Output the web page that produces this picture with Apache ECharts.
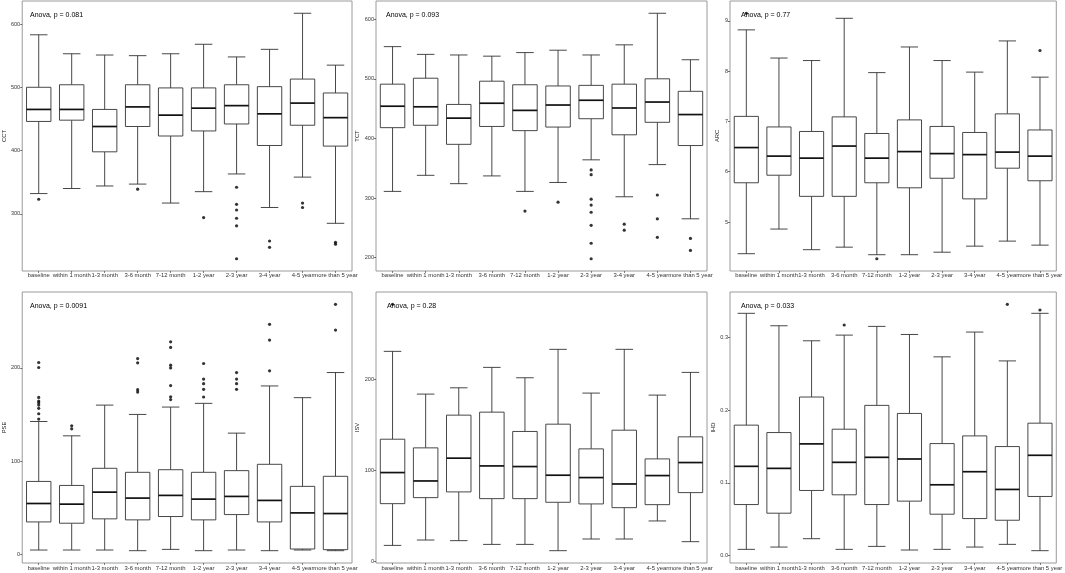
<!DOCTYPE html>
<html>
<head>
<meta charset="utf-8">
<script src="https://cdn.jsdelivr.net/npm/echarts@6/dist/echarts.min.js"></script>
<style>
html,body{margin:0;padding:0;background:#fff;}
#chart{width:1065px;height:573px;}
</style>
</head>
<body>
<div id="chart"></div>
<script>
// ---------- DATA ----------
const categories = ['baseline','within 1 month','1-3 month','3-6 month','7-12 month','1-2 year','2-3 year','3-4 year','4-5 year','more than 5 year'];

// box stats per category: [lower whisker, Q1, median, Q3, upper whisker]
const cctBoxes = [
  [332,446,465,500,583],[340,448,465,504,553],[344,398,438,465,551],[347,438,469,504,550],[317,423,456,499,553],
  [335,431,467,499,568],[363,442,471,504,548],[310,408,458,501,560],[358,440,475,513,617],[285,407,452,491,535]
];
const cctOutliers = [[0,323],[3,339],[5,294],[6,342],[6,315],[6,306],[6,293],[6,281],[6,229],[7,257],[7,247],[8,317],[8,310],[9,255],[9,252]];
const cctTicks = [300,400,500,600];

const tctBoxes = [
  [311,418,454,491,554],[338,422,453,501,541],[324,390,434,457,540],[337,420,459,496,538],[311,413,447,490,544],
  [326,419,456,488,548],[364,433,464,489,540],[302,406,451,491,557],[356,427,461,500,610],[265,388,440,479,532]
];
const tctOutliers = [[4,278],[5,293],[6,347],[6,339],[6,298],[6,288],[6,276],[6,254],[6,224],[6,198],[7,256],[7,246],[8,305],[8,265],[8,234],[9,232],[9,212]];
const tctTicks = [200,300,400,500,600];

const arcBoxes = [
  [4.37,5.78,6.48,7.10,8.82],[4.86,5.93,6.31,6.89,8.26],[4.45,5.51,6.27,6.80,8.21],[4.50,5.51,6.51,7.09,9.05],[4.35,5.78,6.27,6.76,7.97],
  [4.35,5.68,6.40,7.03,8.48],[4.40,5.87,6.36,6.90,8.21],[4.52,5.46,6.34,6.78,7.98],[4.62,6.07,6.39,7.15,8.60],[4.54,5.82,6.31,6.83,7.88]
];
const arcOutliers = [[0,9.15],[4,4.27],[9,8.41]];
const arcTicks = [5,6,7,8,9];

const pseBoxes = [
  [4.3,34.5,54.3,78,142.4],[4.3,33.1,53.6,73.7,127],[4.3,37.8,66.5,92.1,160],[3.6,36.7,60.1,87.8,150],[5,40.3,63,90.6,157.9],
  [3.6,36.7,59,87.8,161.9],[4.3,42.4,61.9,89.6,129.9],[3.6,34.5,57.6,96.4,180.6],[4.3,5.4,44.2,72.7,168],[3.6,4.7,43.5,83.5,195]
];
const pseOutliers = [
  [0,145],[0,150.7],[0,156.5],[0,160],[0,162.6],[0,164.4],[0,168.3],[0,200.4],[0,205.8],
  [1,137.8],[1,134.5],
  [3,210],[3,205.4],[3,176.6],[3,174],
  [4,228],[4,222],[4,202.9],[4,200],[4,181],[4,169],[4,166],
  [5,204.7],[5,188],[5,183],[5,177],[5,168.7],
  [6,195],[6,188],[6,183],[6,177],
  [7,246.8],[7,229.9],[7,196.8],
  [9,268.3],[9,240.6]
];
const pseTicks = [0,100,200];

const isvBoxes = [
  [17.9,63.7,97.8,134.4,230.8],[23.8,70.3,88.6,124.9,183.9],[23.1,76.6,113.6,160.8,190.8],[19,69.2,105.1,164.1,213.2],[19,69.2,104.4,142.9,201.8],
  [12.1,65.2,94.9,150.9,233],[24.9,63.4,92.3,123.8,185],[24.9,59.3,85.3,144.3,233],[44.7,62.6,94.5,112.8,182.8],[22,75.8,108.8,137,207.7]
];
const isvOutliers = [[0,282.4]];
const isvTicks = [0,100,200];

const ihdBoxes = [
  [0.0083,0.0700,0.1226,0.1793,0.3332],[0.0115,0.0581,0.1198,0.1691,0.3161],[0.0230,0.0894,0.1535,0.2180,0.2954],[0.0083,0.0834,0.1281,0.1737,0.3032],[0.0124,0.0700,0.1350,0.2065,0.3152],
  [0.0074,0.0747,0.1327,0.1954,0.3041],[0.0083,0.0567,0.0972,0.1539,0.2733],[0.0115,0.0507,0.1152,0.1645,0.3074],[0.0152,0.0484,0.0908,0.1498,0.2677],[0.0065,0.0811,0.1378,0.1820,0.3332]
];
const ihdOutliers = [[3,0.3171],[8,0.3456],[9,0.3378]];
const ihdTicks = [0.0,0.1,0.2,0.3];

const yNames = ['CCT','TCT','ARC','PSE','ISV','IHD'];
const anovaTexts = ['Anova, p = 0.081','Anova, p = 0.093','Anova, p = 0.77','Anova, p = 0.0091','Anova, p = 0.28','Anova, p = 0.033'];

// ---------- LAYOUT / STYLE ----------
const panels = [
  {boxes:cctBoxes, outs:cctOutliers, ticks:cctTicks, dec:0, grid:{left:21, top:1, width:331, height:270}, gap:14, tx:30, ty:12},
  {boxes:tctBoxes, outs:tctOutliers, ticks:tctTicks, dec:0, grid:{left:376, top:1, width:331, height:270}, gap:15, tx:386, ty:12},
  {boxes:arcBoxes, outs:arcOutliers, ticks:arcTicks, dec:0, grid:{left:730, top:1, width:331, height:270}, gap:10, tx:741, ty:12},
  {boxes:pseBoxes, outs:pseOutliers, ticks:pseTicks, dec:0, grid:{left:21, top:292, width:331, height:271}, gap:14, tx:30, ty:303},
  {boxes:isvBoxes, outs:isvOutliers, ticks:isvTicks, dec:0, grid:{left:376, top:292, width:331, height:271}, gap:14, tx:387, ty:303},
  {boxes:ihdBoxes, outs:ihdOutliers, ticks:ihdTicks, dec:1, grid:{left:730, top:292, width:331, height:271}, gap:13, tx:741, ty:303}
];

const FONT = "'Liberation Sans Narrow','Liberation Sans',Arial,sans-serif";
const LINE = '#333333';

function renderBox(params, api) {
  const x = api.value(0);
  const lo = api.coord([x, api.value(1)]);
  const q1 = api.coord([x, api.value(2)]);
  const md = api.coord([x, api.value(3)]);
  const q3 = api.coord([x, api.value(4)]);
  const hi = api.coord([x, api.value(5)]);
  const band = api.size([1, 0])[0];
  const bw = band * 0.74, cw = band * 0.53;
  const cx = lo[0];
  const thin = {stroke: LINE, lineWidth: 0.9};
  return {
    type: 'group',
    children: [
      {type:'line', shape:{x1:cx, y1:q3[1], x2:cx, y2:hi[1]}, style:thin},
      {type:'line', shape:{x1:cx, y1:q1[1], x2:cx, y2:lo[1]}, style:thin},
      {type:'line', shape:{x1:cx-cw/2, y1:hi[1], x2:cx+cw/2, y2:hi[1]}, style:thin},
      {type:'line', shape:{x1:cx-cw/2, y1:lo[1], x2:cx+cw/2, y2:lo[1]}, style:thin},
      {type:'rect', shape:{x:cx-bw/2, y:q3[1], width:bw, height:q1[1]-q3[1]}, style:{fill:'#ffffff', stroke:LINE, lineWidth:0.9}},
      {type:'line', shape:{x1:cx-bw/2, y1:md[1], x2:cx+bw/2, y2:md[1]}, style:{stroke:'#111111', lineWidth:1.7}}
    ]
  };
}

const grids = [], xAxes = [], yAxes = [], series = [], titles = [];
panels.forEach((p, i) => {
  grids.push(Object.assign({show:true, borderColor:'#8f8f8f', borderWidth:0.9, backgroundColor:'#ffffff', containLabel:false}, p.grid));
  // ggplot-like 5% expansion around all data
  let vals = [];
  p.boxes.forEach(b => vals.push(...b));
  p.outs.forEach(o => vals.push(o[1]));
  const dmin = Math.min(...vals), dmax = Math.max(...vals), r = dmax - dmin;
  xAxes.push({
    gridIndex:i, type:'category', data:categories, boundaryGap:true, position:'bottom',
    axisLine:{show:false, onZero:false},
    axisTick:{show:true, alignWithLabel:true, length:2, lineStyle:{color:LINE, width:0.6}},
    axisLabel:{interval:0, fontSize:5.9, color:'#333333', margin:i<3?1.5:2.5, fontFamily:FONT},
    splitLine:{show:false}
  });
  yAxes.push({
    gridIndex:i, type:'value', min:dmin - 0.05*r, max:dmax + 0.05*r,
    name:yNames[i], nameLocation:'middle', nameGap:p.gap, nameRotate:90,
    nameTextStyle:{fontSize:5.8, color:'#1a1a1a', fontFamily:FONT},
    axisLine:{show:false, onZero:false},
    splitLine:{show:false},
    axisTick:{show:true, length:2, customValues:p.ticks, lineStyle:{color:LINE, width:0.7}},
    axisLabel:{show:true, customValues:p.ticks, fontSize:5.6, color:'#3a3a3a', margin:2, fontFamily:FONT,
      formatter: (v) => Number(v).toFixed(p.dec)}
  });
  series.push({
    type:'custom', xAxisIndex:i, yAxisIndex:i, renderItem:renderBox,
    encode:{x:0, y:[1,2,3,4,5]},
    data:p.boxes.map((b, k) => [k].concat(b)),
    silent:true, z:2
  });
  series.push({
    type:'scatter', xAxisIndex:i, yAxisIndex:i, data:p.outs,
    symbol:'circle', symbolSize:3.2, itemStyle:{color:'#000000'}, silent:true, z:3
  });
  titles.push({text:anovaTexts[i], left:p.tx, top:p.ty, padding:0,
    textStyle:{fontSize:7, fontWeight:'normal', color:'#000000', fontFamily:FONT}});
});

const chart = echarts.init(document.getElementById('chart'), null, {renderer:'canvas'});
chart.setOption({
  animation:false,
  backgroundColor:'#ffffff',
  title:titles,
  grid:grids,
  xAxis:xAxes,
  yAxis:yAxes,
  series:series
});
</script>
</body>
</html>
